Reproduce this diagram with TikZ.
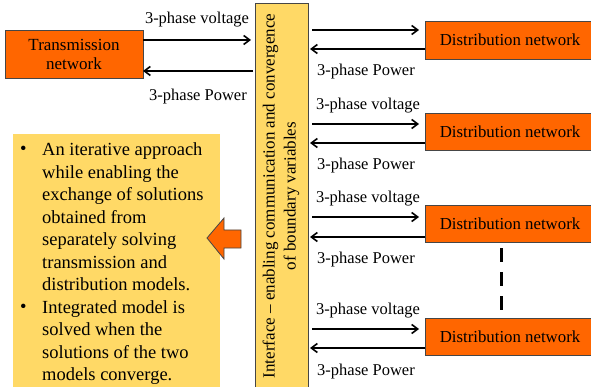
\documentclass[tikz,border=0pt]{standalone}
\usepackage{fontspec}
\setmainfont{Liberation Serif}
\usetikzlibrary{arrows.meta}
\definecolor{netorange}{RGB}{255,102,0}
\definecolor{panelyellow}{RGB}{255,217,102}
\definecolor{edgegray}{RGB}{70,70,70}
\tikzset{
  netbox/.style={draw=edgegray, line width=0.8pt, fill=netorange, align=center, inner sep=0pt, font=\fontsize{17}{19}\selectfont},
  flow/.style={line width=1.6pt, -{Straight Barb[length=6pt,width=9pt,line width=1.6pt]}},
  lbl/.style={font=\fontsize{16.5}{18}\selectfont, inner sep=0pt},
  bul/.style={anchor=north west, inner sep=0pt, font=\fontsize{18.5}{22.5}\selectfont, align=left},
}
\begin{document}
\begin{tikzpicture}[x=1pt,y=-1pt]
\useasboundingbox (0,0) rectangle (591,387);
\clip (0,0) rectangle (591,387);
% interface bar
\node[draw=edgegray, line width=0.8pt, fill=panelyellow, minimum width=53pt, minimum height=390pt, anchor=north west, inner sep=0pt] (bar) at (255,3) {};
\node[rotate=90, align=center, font=\fontsize{17}{21}\selectfont, inner sep=0pt] (bartext) at (281,196) {Interface -- enabling communication and convergence\\of boundary variables};
% transmission
\node[netbox, minimum width=138pt, minimum height=48pt] (tn) at (74,54) {Transmission\\network};
\coordinate (tnv) at (143,40); \coordinate (barv) at (251,40);
\coordinate (tnp) at (143,71); \coordinate (barp) at (253,71);
\draw[flow] (tnv) -- (barv);
\draw[flow] (barp) -- (tnp);
\node[lbl] (tvl) at (197,20) {3-phase voltage};
\node[lbl] (tpl) at (198,97) {3-phase Power};
% distribution networks
\foreach \i/\top/\bot/\va/\pa/\pl in {1/21/59/30/49/72, 2/113/150/124/143/166, 3/205/242/217/237/260, 4/318/355/329/348/372}{
  \node[netbox, minimum width=170pt, minimum height={\bot-\top}, anchor=north west] (dn\i) at (425,\top) {};
  \node[lbl, font=\fontsize{16.8}{18}\selectfont] (dnt\i) at (510,{(\top+\bot)/2}) {Distribution network};
  \coordinate (bv\i) at (312,\va); \coordinate (dv\i) at (419,\va);
  \coordinate (bp\i) at (310,\pa); \coordinate (dp\i) at (425,\pa);
  \draw[flow] (bv\i) -- (dv\i);
  \draw[flow] (dp\i) -- (bp\i);
  \node[lbl] (pl\i) at (366,\pl) {3-phase Power};
}
\foreach \i/\vl in {2/106,3/199,4/311}{
  \node[lbl] (vl\i) at (368,\vl) {3-phase voltage};
}
% dashed
\draw[line width=3pt, dash pattern=on 14pt off 10pt] (501,248) coordinate (dsa) -- (501,310) coordinate (dsb);
% left panel
\node[fill=panelyellow, minimum width=207pt, minimum height=260pt, anchor=north west, inner sep=0pt] (panel) at (13,134) {};
\node[anchor=base west, inner sep=0pt, font=\fontsize{18.5}{22.5}\selectfont] (b1) at (20,155) {\textbullet};
\node[bul] (t1) at (42,142.5) {An iterative approach\\while enabling the\\exchange of solutions\\obtained from\\separately solving\\transmission and\\distribution models.};
\node[anchor=base west, inner sep=0pt, font=\fontsize{18.5}{22.5}\selectfont] (b2) at (20,312.5) {\textbullet};
\node[bul] (t2) at (42,300) {Integrated model is\\solved when the\\solutions of the two\\models converge.};
% orange arrow
\draw[draw=edgegray, line width=0.8pt, fill=netorange] (207,238) -- (224,218) -- (224,230) -- (241,230) -- (241,248) -- (224,248) -- (224,259) -- cycle;
\end{tikzpicture}
\end{document}
